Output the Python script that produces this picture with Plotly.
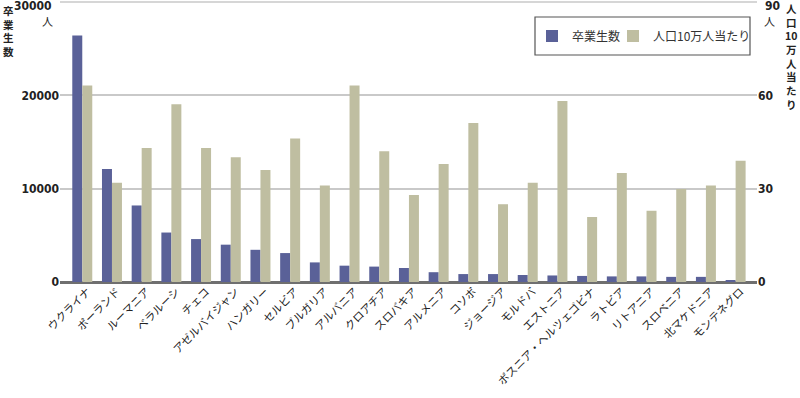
import plotly.graph_objects as go

countries = ["ウクライナ", "ポーランド", "ルーマニア", "ベラルーシ", "チェコ", "アゼルバイジャン",
             "ハンガリー", "セルビア", "ブルガリア", "アルバニア", "クロアチア", "スロバキア",
             "アルメニア", "コソボ", "ジョージア", "モルドバ", "エストニア", "ボスニア・ヘルツェゴビナ",
             "ラトビア", "リトアニア", "スロベニア", "北マケドニア", "モンテネグロ"]
graduates = [26400, 12100, 8200, 5300, 4600, 4000, 3450, 3100, 2100, 1750, 1650, 1500,
             1050, 850, 850, 750, 700, 650, 600, 600, 550, 550, 200]
per100k = [63.2, 31.9, 43.1, 57.1, 43.1, 40.1, 36.0, 46.1, 31.0, 63.2, 42.0, 28.0,
           37.9, 51.1, 25.0, 31.9, 58.2, 20.9, 35.0, 22.9, 29.9, 31.0, 39.0]

left_ticks = [0, 10000, 20000, 30000]
left_ticktext = ["0", "10000", "20000", "30000"]
right_ticks = [0, 30, 60, 90]
right_ticktext = ["0", "30", "60", "90"]

name_grad = "卒業生数"
name_rate = "人口10万人当たり"
left_title_chars = ["卒", "業", "生", "数"]
right_title_chars = ["人", "口", "10", "万", "人", "当", "た", "り"]
unit = "人"

BLUE = "#5a6198"
TAN = "#bfbea1"
TXT = "#222222"
JP = "Noto Sans CJK JP"
NUM = "DejaVu Sans Condensed, Liberation Sans Narrow, sans-serif"

L, R, T, B = 60, 43, 2, 116
W, H = 800, 398
pw = W - L - R
ph = H - T - B

def px(x):
    return (x - L) / pw

def py(y):
    return 1 - (y - T) / ph

fig = go.Figure()
fig.add_trace(go.Bar(x=countries, y=graduates, name=name_grad, marker_color=BLUE,
                     marker_line_width=0, yaxis="y", offsetgroup="a", legendwidth=36))
fig.add_trace(go.Bar(x=countries, y=per100k, name=name_rate, marker_color=TAN,
                     marker_line_width=0, yaxis="y2", offsetgroup="b", legendwidth=110))

numfont = dict(family=NUM, size=12, color=TXT, weight="bold")

fig.update_layout(
    width=W, height=H,
    margin=dict(l=L, r=R, t=T, b=B),
    paper_bgcolor="white", plot_bgcolor="white",
    barmode="group", bargap=0.327, bargroupgap=0,
    showlegend=True,
    legend=dict(orientation="h", x=px(532), y=py(36), xanchor="left", yanchor="middle",
                bgcolor="rgba(0,0,0,0)", borderwidth=0,
                font=dict(family=JP, size=12, color="#333"),
                itemwidth=30, traceorder="normal"),
    xaxis=dict(range=[-0.75, 22.72], tickangle=-45, showgrid=False,
               tickfont=dict(family=JP, size=11, color=TXT),
               ticklabelshift=5, ticklabelstandoff=0,
               showline=False, ticks="", zeroline=False),
    yaxis=dict(range=[0, 30000], tickvals=left_ticks[:3], ticktext=left_ticktext[:3],
               showgrid=True, gridcolor="#c9c9c9", gridwidth=1.5, zeroline=True,
               zerolinecolor="#6f6f6f", zerolinewidth=2.5,
               tickfont=numfont, ticks="", showline=False),
    yaxis2=dict(range=[0, 90], tickvals=right_ticks[:3], ticktext=right_ticktext[:3],
                overlaying="y", side="right", showgrid=False, zeroline=False,
                tickfont=numfont, ticks="", showline=False),
    shapes=[
        dict(type="rect", xref="paper", yref="paper", x0=px(535), x1=px(750),
             y0=py(55), y1=py(17), line=dict(color="#555", width=1.2), fillcolor="rgba(0,0,0,0)"),
        dict(type="line", xref="paper", yref="paper", x0=0, x1=1, y0=1, y1=1,
             line=dict(color="#c9c9c9", width=1.5)),
    ],
)

ann = []
ann.append(dict(text=left_ticktext[3], xref="paper", yref="paper", x=px(54), y=py(6),
                xanchor="right", yanchor="middle", showarrow=False, font=numfont))
ann.append(dict(text=unit, xref="paper", yref="paper", x=px(47), y=py(21),
                xanchor="center", yanchor="middle", showarrow=False,
                font=dict(family=JP, size=11, color=TXT)))
ann.append(dict(text=right_ticktext[3], xref="paper", yref="paper", x=px(763), y=py(6),
                xanchor="left", yanchor="middle", showarrow=False, font=numfont))
ann.append(dict(text=unit, xref="paper", yref="paper", x=px(770), y=py(21),
                xanchor="center", yanchor="middle", showarrow=False,
                font=dict(family=JP, size=11, color=TXT)))
# vertical (stacked) axis titles
ann.append(dict(text="<br>".join(left_title_chars), xref="paper", yref="paper",
                x=px(8), y=py(2), xanchor="center", yanchor="top", showarrow=False,
                borderpad=0, align="center",
                font=dict(family=JP, size=10.5, color=TXT, weight="bold")))
ann.append(dict(text="<br>".join(right_title_chars), xref="paper", yref="paper",
                x=px(791), y=py(0), xanchor="center", yanchor="top", showarrow=False,
                borderpad=0, align="center",
                font=dict(family=JP, size=10.5, color=TXT, weight="bold")))
fig.update_layout(annotations=ann)

fig.write_html("out.html", config={"displayModeBar": False},
               post_script="document.body.style.margin='0';document.body.style.padding='0';")
